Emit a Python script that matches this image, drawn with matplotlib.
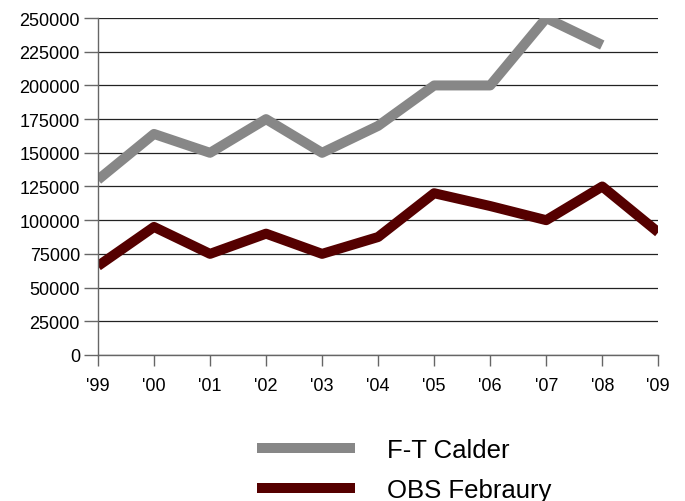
import matplotlib
matplotlib.use("Agg")
import matplotlib.pyplot as plt
import numpy as np

years = ["'99", "'00", "'01", "'02", "'03", "'04", "'05", "'06", "'07", "'08", "'09"]
calder = [130000, 164000, 150000, 175000, 150000, 170000, 200000, 200000, 250000, 230000, np.nan]
obs_feb = [66000, 95000, 75000, 90000, 75000, 87500, 120000, 110500, 100000, 125000, 91000]
y_ticks = list(range(0, 250001, 25000))

plt.rcParams["font.family"] = ["Liberation Sans", "DejaVu Sans"]

fig = plt.figure(figsize=(6.85, 5.02), dpi=100)
ax = fig.add_axes([0.143, 0.291, 0.818, 0.671])

x = np.arange(len(years))
ax.plot(x, calder, color="#878787", lw=7.2, label="F-T Calder", solid_capstyle="butt")
ax.plot(x, obs_feb, color="#550000", lw=7.2, label="OBS Febraury", solid_capstyle="butt")

ax.set_xlim(0, len(years) - 1)
ax.set_ylim(0, 250000)
ax.set_xticks(x)
ax.set_xticklabels(years)
ax.set_yticks(y_ticks)
ax.set_yticklabels([str(v) for v in y_ticks])
ax.yaxis.grid(True, color="#222222", lw=0.9)
ax.set_axisbelow(True)

for s in ["top", "right"]:
    ax.spines[s].set_visible(False)
for s in ["left", "bottom"]:
    ax.spines[s].set_color("#666666")
    ax.spines[s].set_linewidth(1.0)
ax.tick_params(axis="both", direction="out", color="#666666", labelsize=13, width=1.0)
ax.tick_params(axis="y", length=10, pad=3)
ax.tick_params(axis="x", length=8, pad=8)

fig.legend(loc="upper left", bbox_to_anchor=(0.375, 0.125), frameon=False,
           fontsize=18.5, handlelength=3.8, handletextpad=1.25, labelspacing=0.6,
           borderpad=0, borderaxespad=0)

fig.savefig("out.png", dpi=100)
